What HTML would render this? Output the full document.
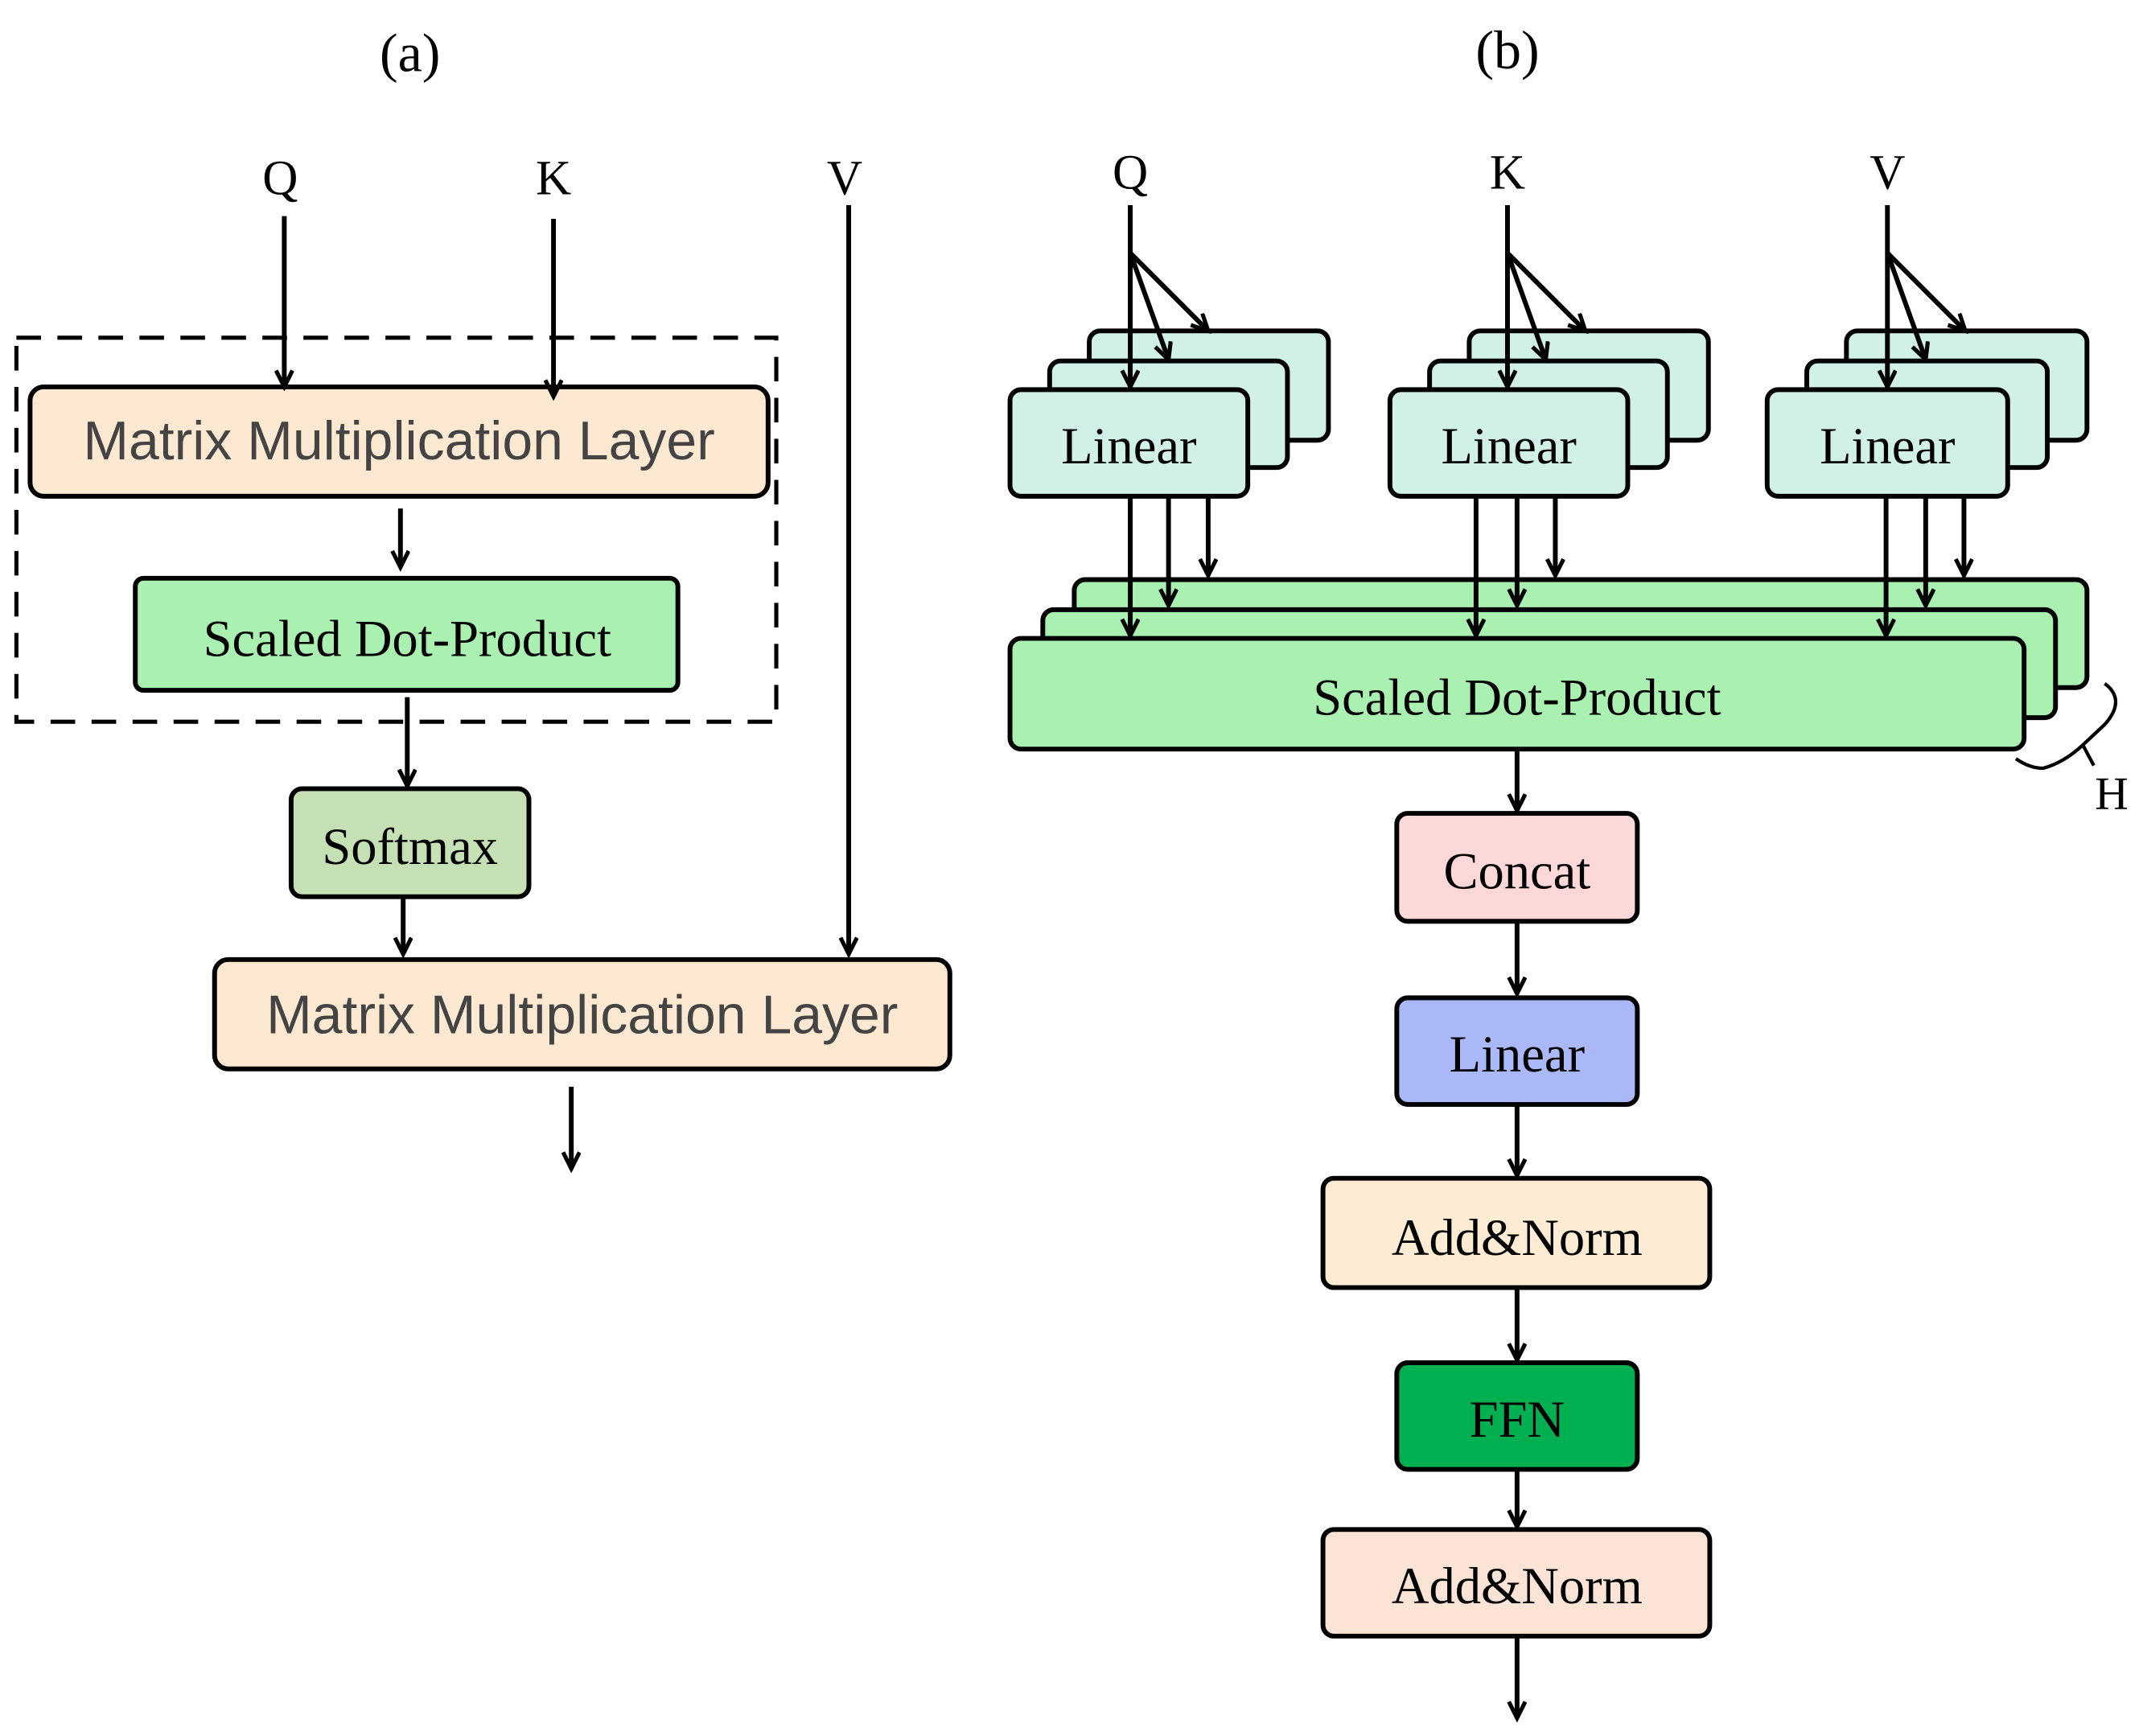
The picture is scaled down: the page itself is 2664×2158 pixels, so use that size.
<!DOCTYPE html>
<html><head><meta charset="utf-8"><style>html,body{margin:0;padding:0;background:#fff}svg{display:block}</style></head><body>
<svg width="2664" height="2158" viewBox="0 0 1568 1270" xmlns="http://www.w3.org/2000/svg">
<defs>
<marker id="a" markerWidth="16" markerHeight="16" refX="13" refY="7" orient="auto" markerUnits="userSpaceOnUse"><path d="M1,1 L13,7 L1,13" fill="none" stroke="#000" stroke-width="3"/></marker>
</defs>
<g font-family="Liberation Serif, serif" fill="#000">
<text x="300" y="52" font-size="40" text-anchor="middle">(a)</text>
<text x="1103" y="50" font-size="40" text-anchor="middle">(b)</text>
<text x="205" y="142" font-size="36" text-anchor="middle">Q</text>
<text x="405" y="142" font-size="36" text-anchor="middle">K</text>
<text x="618" y="142" font-size="36" text-anchor="middle">V</text>
<text x="827" y="138" font-size="36" text-anchor="middle">Q</text>
<text x="1103" y="138" font-size="36" text-anchor="middle">K</text>
<text x="1381" y="138" font-size="36" text-anchor="middle">V</text>
<text x="1545" y="592" font-size="34" text-anchor="middle">H</text>
</g>
<rect x="12" y="247" width="556" height="281" fill="none" stroke="#000" stroke-width="3" stroke-dasharray="18,12"/>
<g stroke="#000" stroke-width="3.5">
<rect x="22" y="283" width="540" height="80" rx="10" fill="#FDE9D2"/>
<rect x="99" y="423" width="397" height="82" rx="6" fill="#A9F0B1"/>
<rect x="213" y="577" width="174" height="79" rx="8" fill="#C5E0B4"/>
<rect x="157" y="702" width="538" height="80" rx="10" fill="#FDE9D2"/>
</g>
<g stroke="#000" stroke-width="3.5" fill="none" marker-end="url(#a)">
<line x1="208" y1="158" x2="208" y2="283"/>
<line x1="405" y1="160" x2="405" y2="290"/>
<line x1="621" y1="150" x2="621" y2="698"/>
<line x1="293" y1="372" x2="293" y2="415"/>
<line x1="298" y1="510" x2="298" y2="575"/>
<line x1="295" y1="656" x2="295" y2="698"/>
<line x1="418" y1="795" x2="418" y2="855"/>
</g>
<g font-family="Liberation Sans, sans-serif" fill="#444" font-size="40" text-anchor="middle">
<text x="292" y="336">Matrix Multiplication Layer</text>
<text x="426" y="756">Matrix Multiplication Layer</text>
</g>
<g font-family="Liberation Serif, serif" fill="#000" font-size="38" text-anchor="middle">
<text x="298" y="480">Scaled Dot-Product</text>
<text x="300" y="632">Softmax</text>
</g>
<g stroke="#000" stroke-width="3.5" fill="#D1F0E8">
<rect x="797" y="242" width="175" height="80" rx="8"/>
<rect x="768" y="264" width="174" height="78" rx="8"/>
<rect x="739" y="285" width="174" height="78" rx="8"/>
<rect x="1075" y="242" width="175" height="80" rx="8"/>
<rect x="1046" y="264" width="174" height="78" rx="8"/>
<rect x="1017" y="285" width="174" height="78" rx="8"/>
<rect x="1351" y="242" width="176" height="80" rx="8"/>
<rect x="1322" y="264" width="176" height="78" rx="8"/>
<rect x="1293" y="285" width="176" height="78" rx="8"/>
</g>
<g font-family="Liberation Serif, serif" font-size="38" text-anchor="middle" fill="#000">
<text x="826" y="339">Linear</text>
<text x="1104" y="339">Linear</text>
<text x="1381" y="339">Linear</text>
</g>
<g stroke="#000" stroke-width="3.5" fill="#A9F0B1">
<rect x="786" y="424" width="741" height="79" rx="8"/>
<rect x="763" y="446" width="741" height="79" rx="8"/>
<rect x="739" y="467" width="742" height="81" rx="8"/>
</g>
<text x="1110" y="523" font-family="Liberation Serif, serif" font-size="38" text-anchor="middle">Scaled Dot-Product</text>
<g stroke="#000" stroke-width="3.5" fill="none" marker-end="url(#a)">
<line x1="827" y1="150" x2="827" y2="283"/>
<line x1="827" y1="185" x2="855" y2="263"/>
<line x1="827" y1="185" x2="884" y2="242"/>
<line x1="1103" y1="150" x2="1103" y2="283"/>
<line x1="1103" y1="185" x2="1131" y2="263"/>
<line x1="1103" y1="185" x2="1160" y2="242"/>
<line x1="1381" y1="150" x2="1381" y2="283"/>
<line x1="1381" y1="185" x2="1409" y2="263"/>
<line x1="1381" y1="185" x2="1438" y2="242"/>
<line x1="827" y1="363" x2="827" y2="465"/>
<line x1="855" y1="363" x2="855" y2="443"/>
<line x1="884" y1="363" x2="884" y2="421"/>
<line x1="1080" y1="363" x2="1080" y2="465"/>
<line x1="1110" y1="363" x2="1110" y2="443"/>
<line x1="1138" y1="363" x2="1138" y2="421"/>
<line x1="1380" y1="363" x2="1380" y2="465"/>
<line x1="1409" y1="363" x2="1409" y2="443"/>
<line x1="1437" y1="363" x2="1437" y2="421"/>
<line x1="1110" y1="548" x2="1110" y2="593"/>
<line x1="1110" y1="674" x2="1110" y2="727"/>
<line x1="1110" y1="808" x2="1110" y2="860"/>
<line x1="1110" y1="942" x2="1110" y2="995"/>
<line x1="1110" y1="1075" x2="1110" y2="1117"/>
<line x1="1110" y1="1197" x2="1110" y2="1257"/>
</g>
<path d="M1540,500 Q1556,512 1540,530 L1524,545 Q1510,558 1495,562 Q1485,562 1475,555 M1524,545 L1532,560" fill="none" stroke="#000" stroke-width="2.5"/>
<g stroke="#000" stroke-width="3.5">
<rect x="1022" y="595" width="176" height="79" rx="8" fill="#FDD8D8"/>
<rect x="1022" y="730" width="176" height="78" rx="8" fill="#ABB8F8"/>
<rect x="968" y="862" width="283" height="80" rx="8" fill="#FDEBD3"/>
<rect x="1022" y="997" width="176" height="78" rx="8" fill="#00B050"/>
<rect x="968" y="1119" width="283" height="78" rx="8" fill="#FBE3D6"/>
</g>
<g font-family="Liberation Serif, serif" font-size="38" text-anchor="middle" fill="#000">
<text x="1110" y="650">Concat</text>
<text x="1110" y="784">Linear</text>
<text x="1110" y="918">Add&amp;Norm</text>
<text x="1110" y="1051">FFN</text>
<text x="1110" y="1173">Add&amp;Norm</text>
</g>
</svg>
</body></html>
